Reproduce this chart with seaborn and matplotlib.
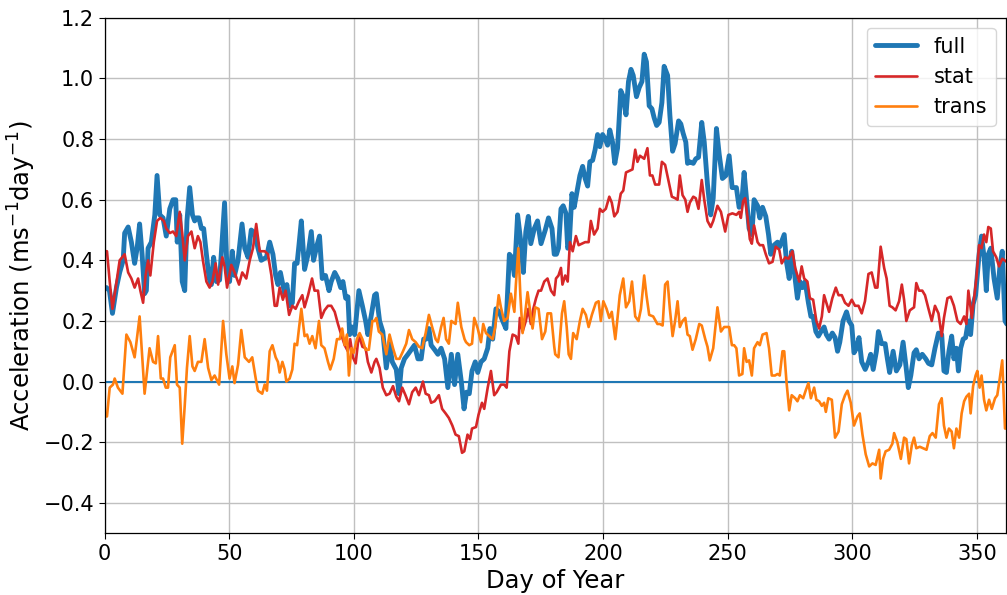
import matplotlib
matplotlib.use("Agg")
import matplotlib.pyplot as plt
import seaborn as sns

full_days = [0, 0.7, 1.9, 3.1, 4.7, 6.0, 7.4, 8.0, 9.4, 10.7, 12.0, 13.0, 14.0, 15.0, 16.0, 16.7, 17.4, 18.7, 20.1, 21.0,
             22.1, 23.4, 24.7, 26.1, 27.4, 28.5, 29.1, 30.1, 31.1, 32.1, 33.0, 34.1, 35.2, 36.1, 36.8, 37.8, 38.8, 39.7,
             40.8, 41.9, 42.8, 43.7, 44.8, 46.1, 48.1, 49.1, 50.1, 51.2, 52.1, 53.5, 55.1, 56.2, 57.5, 58.8, 60.2, 61.5,
             62.8, 64.9, 66.2, 67.5, 68.6, 69.5, 70.5, 72.2, 73.1, 74.2, 75.3, 76.2, 77.2, 77.95, 78.9, 80.2, 81.6, 82.9,
             83.8, 85.2, 86.2, 87.3, 88.6, 90.0, 90.9, 92.3, 93.6, 94.7, 95.6, 96.7, 97.6, 98.3, 99.3, 100.3, 101.2, 102.0,
             103.4, 104.7, 105.6, 107.0, 108.3, 109.0, 110.3, 111.6, 113.0, 114.3, 115.4, 117.0, 118.1, 119.0, 120.3,
             121.7, 123.0, 124.3, 125.7, 127.0, 128.0, 129.0, 130.1, 131.0, 132.4, 133.7, 135.0, 136.4, 137.7, 139.1,
             140.4, 141.7, 143.1, 144.2, 145.2, 146.3, 147.4, 148.7, 149.7, 151.0, 152.3, 153.7, 154.6, 155.7, 157.0,
             158.3, 159.7, 161.0, 162.4, 163.4, 164.4, 165.7, 167.0, 168.0, 169.0, 170.0, 171.0, 172.4, 173.7, 175.1,
             176.8, 178.1, 179.5, 180.4, 181.3, 182.1, 183.1, 184.0, 185.1, 185.8, 186.4, 187.5, 188.4, 189.4, 190.7,
             191.8, 192.8, 193.8, 194.7, 195.8, 196.8, 197.8, 198.7, 199.8, 200.9, 201.8, 202.7, 203.8, 204.7, 205.8,
             207.1, 208.1, 209.2, 210.2, 211.2, 212.1, 213.4, 214.5, 215.6, 216.5, 217.4, 218.5, 219.6, 220.5, 221.5,
             222.5, 223.6, 224.5, 225.9, 226.8, 227.9, 228.9, 230.3, 231.2, 232.1, 233.2, 233.9, 234.8, 236.2, 237.2,
             238.3, 239.6, 240.6, 241.9, 243.2, 244.2, 245.5, 246.6, 247.9, 249.3, 250.6, 251.8, 252.6, 253.5, 254.6,
             255.7, 256.6, 257.6, 258.6, 259.7, 260.6, 262.0, 262.9, 264.0, 265.3, 266.4, 267.3, 268.6, 270.0, 270.9,
             272.0, 272.7, 273.6, 274.7, 275.7, 276.7, 278.0, 279.0, 280.0, 281.1, 282.4, 283.4, 284.3, 285.4, 286.4,
             287.8, 288.7, 289.6, 290.7, 292.0, 293.1, 294.1, 295.0, 296.3, 297.7, 298.7, 299.8, 300.7, 301.7, 302.7,
             303.8, 305.2, 306.5, 307.4, 308.4, 309.7, 310.5, 311.8, 313.2, 314.1, 315.0, 316.4, 317.7, 319.1, 320.4,
             321.5, 322.5, 323.5, 324.8, 325.7, 326.8, 328.1, 329.5, 330.6, 331.9, 333.2, 334.6, 335.9, 336.8, 337.8,
             338.8, 339.9, 340.8, 341.8, 342.6, 343.5, 344.5, 345.5, 346.6, 347.5, 348.5, 349.5, 350.9, 351.9, 352.9,
             353.8, 354.6, 355.6, 356.9, 358.2, 359.2, 360.2, 361.3, 362.0]
full_vals = [0.31, 0.31, 0.30, 0.225, 0.31, 0.36, 0.40, 0.49, 0.51, 0.46, 0.39, 0.44, 0.52, 0.42, 0.29, 0.30, 0.44, 0.46, 0.55, 0.68,
             0.55, 0.54, 0.48, 0.57, 0.60, 0.60, 0.46, 0.55, 0.33, 0.30, 0.53, 0.64, 0.55, 0.53, 0.54, 0.54, 0.505, 0.505,
             0.42, 0.34, 0.32, 0.41, 0.33, 0.335, 0.59, 0.36, 0.33, 0.43, 0.35, 0.40, 0.52, 0.44, 0.41, 0.50, 0.49, 0.44,
             0.40, 0.41, 0.46, 0.42, 0.35, 0.32, 0.36, 0.29, 0.32, 0.25, 0.26, 0.39, 0.39, 0.45, 0.53, 0.37, 0.42, 0.495,
             0.40, 0.45, 0.48, 0.34, 0.35, 0.30, 0.33, 0.36, 0.34, 0.31, 0.33, 0.275, 0.28, 0.155, 0.18, 0.155, 0.23, 0.30,
             0.25, 0.20, 0.155, 0.22, 0.285, 0.29, 0.20, 0.165, 0.045, 0.125, 0.065, 0.04, -0.04, 0.045, 0.075,
             0.09, 0.105, 0.12, 0.075, 0.075, 0.14, 0.14, 0.175, 0.12, 0.105, 0.09, 0.11, 0.075, -0.02, 0.09,
             -0.01, 0.09, 0.0, -0.09, -0.035, -0.04, 0.035, 0.065, 0.03, 0.065, 0.075, 0.11, 0.175, 0.14, 0.24,
             0.23, 0.20, 0.175, 0.42, 0.41, 0.35, 0.55, 0.46, 0.36, 0.495, 0.545, 0.455, 0.505, 0.53, 0.455,
             0.50, 0.54, 0.505, 0.42, 0.42, 0.44, 0.57, 0.58, 0.555, 0.44, 0.45, 0.62, 0.575, 0.62, 0.68,
             0.71, 0.67, 0.645, 0.725, 0.73, 0.765, 0.815, 0.775, 0.815, 0.80, 0.78, 0.83, 0.79, 0.72, 0.77,
             0.96, 0.94, 0.88, 0.99, 1.03, 1.01, 0.94, 0.97, 0.99, 1.08, 1.055, 0.91, 0.90, 0.87, 0.845,
             0.855, 0.92, 1.04, 1.01, 0.88, 0.76, 0.785, 0.86, 0.85, 0.82, 0.79, 0.72, 0.725, 0.72, 0.735,
             0.74, 0.855, 0.79, 0.65, 0.55, 0.605, 0.835, 0.75, 0.67, 0.68, 0.745, 0.64, 0.64, 0.64, 0.575,
             0.595, 0.69, 0.60, 0.505, 0.485, 0.60, 0.58, 0.54, 0.575, 0.545, 0.485, 0.42, 0.45, 0.46, 0.445,
             0.47, 0.485, 0.395, 0.34, 0.43, 0.365, 0.275, 0.33, 0.31, 0.33, 0.26, 0.215, 0.215, 0.165, 0.15,
             0.17, 0.18, 0.155, 0.14, 0.16, 0.145, 0.10, 0.13, 0.20, 0.23, 0.20, 0.185, 0.095, 0.11, 0.145,
             0.065, 0.04, 0.065, 0.09, 0.04, 0.10, 0.165, 0.125, 0.125, 0.075, 0.03, 0.10, 0.035, 0.055, 0.13,
             0.055, -0.02, 0.02, 0.095, 0.105, 0.075, 0.09, 0.075, 0.06, 0.055, 0.11, 0.16, 0.155, 0.035, 0.03,
             0.10, 0.15, 0.075, 0.11, 0.035, 0.11, 0.14, 0.145, 0.20, 0.155, 0.255, 0.285, 0.42, 0.48, 0.41,
             0.30, 0.42, 0.44, 0.34, 0.275, 0.375, 0.43, 0.20, 0.19]

stat_days = [0, 0.9, 2.0, 3.1, 4.4, 6.0, 8.0, 9.4, 10.7, 12.0, 13.4, 14.3, 15.4, 16.4, 17.4, 18.3, 19.7, 21.0, 22.3, 23.7,
             24.7, 26.1, 27.4, 28.7, 30.1, 31.1, 32.1, 33.4, 34.8, 36.1, 37.4, 38.4, 39.4, 40.8, 42.1, 43.2, 44.5, 45.5,
             47.2, 48.1, 49.1, 50.8, 52.1, 53.9, 55.2, 56.8, 58.2, 59.5, 60.8, 62.2, 64.2, 65.5, 66.9, 68.2, 69.1, 70.2,
             71.5, 72.6, 74.0, 75.3, 76.6, 77.95, 79.3, 80.2, 81.6, 83.2, 84.2, 85.6, 86.9, 88.2, 89.6, 90.9, 92.3, 93.6,
             94.9, 96.3, 97.6, 98.5, 99.6, 100.7, 102.0, 103.4, 104.7, 105.6, 107.0, 108.3, 109.0, 110.3, 111.6, 113.0,
             114.3, 115.7, 117.0, 118.1, 119.4, 120.7, 122.1, 123.4, 124.8, 126.1, 127.7, 128.8, 130.1, 131.0, 132.4,
             134.1, 135.4, 136.8, 138.1, 139.5, 140.8, 142.1, 143.4, 144.3, 145.6, 146.6, 147.4, 149.0, 150.0, 151.4,
             152.3, 153.7, 155.0, 156.3, 157.3, 159.0, 160.3, 161.3, 162.4, 163.7, 165.0, 166.0, 166.6, 167.7, 169.0,
             170.0, 171.0, 172.0, 173.1, 174.1, 175.1, 176.4, 177.7, 179.1, 180.4, 181.1, 182.1, 183.1, 183.7, 184.8,
             185.8, 186.7, 187.8, 189.1, 190.2, 191.5, 192.8, 194.2, 195.1, 196.4, 197.8, 198.7, 199.8, 201.1, 202.5,
             203.5, 204.5, 205.8, 207.1, 208.1, 209.2, 210.5, 211.8, 212.9, 213.8, 214.8, 216.5, 217.8, 218.8, 219.8,
             220.9, 222.5, 223.6, 224.9, 226.3, 227.6, 228.9, 229.9, 230.8, 231.9, 233.0, 233.9, 234.8, 236.2, 237.2,
             238.3, 239.6, 240.6, 241.9, 243.2, 244.2, 245.9, 247.3, 249.0, 250.3, 251.9, 253.5, 254.6, 255.3, 256.2,
             257.0, 258.0, 258.9, 259.7, 260.6, 262.0, 262.9, 264.2, 265.3, 266.6, 268.0, 269.3, 270.7, 271.7, 273.1,
             274.4, 276.0, 277.1, 278.7, 279.7, 280.7, 282.0, 283.0, 284.3, 285.6, 286.7, 287.8, 288.7, 289.6, 290.7,
             292.0, 293.4, 294.5, 295.8, 297.1, 298.5, 299.8, 301.1, 302.5, 303.8, 305.1, 306.5, 307.8, 309.2, 310.1,
             311.4, 312.8, 313.8, 315.0, 316.1, 317.4, 318.8, 319.9, 320.8, 321.7, 323.1, 324.8, 325.7, 326.8, 328.1,
             329.2, 330.6, 331.9, 333.2, 334.6, 335.9, 336.8, 338.2, 339.5, 340.8, 342.2, 343.5, 344.9, 345.8, 346.6,
             348.0, 348.9, 349.8, 350.9, 351.9, 352.9, 353.8, 354.6, 355.6, 356.5, 357.8, 358.9, 360.2, 362.0]
stat_vals = [0.43, 0.43, 0.33, 0.24, 0.31, 0.40, 0.42, 0.36, 0.34, 0.31, 0.34, 0.30, 0.26, 0.35, 0.40, 0.35, 0.46, 0.53, 0.54, 0.53,
             0.505, 0.49, 0.495, 0.48, 0.56, 0.49, 0.40, 0.48, 0.495, 0.44, 0.48, 0.46, 0.40, 0.33, 0.31, 0.33, 0.39, 0.32,
             0.41, 0.38, 0.31, 0.385, 0.36, 0.32, 0.36, 0.34, 0.40, 0.44, 0.52, 0.43, 0.43, 0.42, 0.35, 0.25, 0.25, 0.31,
             0.27, 0.30, 0.22, 0.25, 0.24, 0.265, 0.285, 0.245, 0.285, 0.34, 0.30, 0.30, 0.21, 0.235, 0.25, 0.25, 0.23, 0.19,
             0.155, 0.12, 0.10, 0.14, 0.08, 0.06, 0.155, 0.115, 0.11, 0.065, 0.03, 0.065, 0.075, 0.045, -0.02, -0.045,
             -0.04, -0.015, -0.05, -0.065, -0.02, -0.045, -0.075, -0.035, -0.02, -0.045, 0.0, -0.04, -0.045, -0.07, -0.065,
             -0.045, -0.09, -0.105, -0.12, -0.145, -0.175, -0.18, -0.235, -0.23, -0.175, -0.19, -0.155, -0.15, -0.11, -0.07,
             -0.09, -0.02, 0.035, -0.045, -0.035, -0.01, -0.01, -0.02, 0.10, 0.155, 0.15, 0.125, 0.21, 0.165, 0.20,
             0.24, 0.19, 0.24, 0.275, 0.30, 0.30, 0.33, 0.34, 0.30, 0.285, 0.34, 0.35, 0.375, 0.32, 0.35,
             0.33, 0.46, 0.43, 0.48, 0.45, 0.455, 0.46, 0.46, 0.53, 0.485, 0.505, 0.57, 0.56, 0.57, 0.61,
             0.59, 0.545, 0.56, 0.62, 0.63, 0.69, 0.695, 0.70, 0.765, 0.725, 0.745, 0.735, 0.77, 0.68, 0.68,
             0.65, 0.65, 0.725, 0.715, 0.66, 0.61, 0.605, 0.60, 0.68, 0.615, 0.60, 0.56, 0.59, 0.61, 0.605,
             0.57, 0.665, 0.60, 0.53, 0.51, 0.53, 0.58, 0.56, 0.495, 0.55, 0.555, 0.55, 0.56, 0.54, 0.595,
             0.605, 0.54, 0.47, 0.455, 0.515, 0.46, 0.45, 0.45, 0.42, 0.39, 0.395, 0.445, 0.435, 0.39, 0.41,
             0.405, 0.43, 0.375, 0.33, 0.38, 0.34, 0.33, 0.275, 0.27, 0.20, 0.175, 0.215, 0.285, 0.26, 0.23,
             0.275, 0.31, 0.285, 0.285, 0.26, 0.25, 0.27, 0.25, 0.25, 0.225, 0.265, 0.355, 0.36, 0.31, 0.31,
             0.445, 0.375, 0.34, 0.25, 0.245, 0.235, 0.265, 0.32, 0.27, 0.20, 0.235, 0.245, 0.325, 0.30, 0.30,
             0.285, 0.24, 0.20, 0.25, 0.225, 0.15, 0.21, 0.275, 0.28, 0.25, 0.20, 0.19, 0.215, 0.19, 0.30,
             0.21, 0.275, 0.34, 0.45, 0.44, 0.485, 0.46, 0.51, 0.505, 0.43, 0.41, 0.38, 0.405, 0.395]

trans_days = [0, 0.9, 2.0, 3.3, 4.0, 5.3, 7.1, 8.7, 10.3, 12.0, 14.0, 16.0, 18.0, 19.4, 20.5, 21.4, 22.5, 23.4, 24.5, 25.4,
              26.3, 28.1, 29.0, 30.1, 31.1, 32.1, 33.0, 34.1, 35.2, 36.1, 37.4, 38.8, 40.1, 41.5, 42.8, 44.1, 45.9, 47.5,
              48.8, 50.1, 51.2, 52.1, 53.5, 54.8, 56.2, 57.9, 59.2, 60.6, 61.5, 63.2, 64.2, 65.1, 66.2, 67.3, 68.6, 69.5,
              70.2, 71.3, 72.2, 72.9, 74.2, 75.3, 76.2, 77.2, 77.95, 78.9, 80.2, 81.2, 82.2, 83.3, 84.6, 86.0, 86.9, 88.2,
              89.6, 90.5, 91.9, 93.2, 94.3, 95.3, 96.3, 97.2, 98.0, 99.0, 99.9, 101.2, 102.3, 103.4, 104.7, 106.0, 107.4,
              108.3, 109.0, 110.0, 111.4, 113.0, 114.3, 115.7, 117.0, 118.3, 119.7, 121.0, 122.1, 123.4, 124.8, 126.1,
              127.4, 128.8, 130.1, 131.4, 132.8, 133.7, 135.0, 136.0, 137.0, 138.1, 139.1, 140.8, 141.7, 143.1, 144.4,
              145.0, 146.3, 147.4, 148.3, 149.7, 151.0, 151.9, 153.0, 154.3, 155.7, 156.7, 158.1, 159.0, 160.3, 161.7,
              163.0, 164.4, 165.0, 166.0, 166.8, 167.7, 168.8, 169.7, 170.6, 171.7, 172.8, 174.1, 175.5, 176.8, 177.7,
              179.1, 180.4, 180.8, 182.1, 183.5, 184.4, 185.4, 186.2, 187.1, 188.0, 189.4, 190.7, 191.8, 193.1, 194.2,
              195.5, 197.1, 198.2, 199.1, 200.1, 201.4, 202.5, 203.5, 204.9, 205.8, 206.7, 208.1, 209.2, 210.5, 211.6,
              212.9, 214.2, 215.2, 216.5, 217.4, 218.5, 220.1, 221.8, 222.8, 223.9, 224.9, 225.9, 226.8, 227.9, 228.9,
              229.9, 230.8, 231.9, 233.0, 233.9, 234.8, 235.9, 237.2, 238.6, 239.6, 241.0, 241.9, 242.8, 244.2, 245.9,
              247.3, 248.6, 250.6, 251.7, 252.6, 253.5, 254.6, 255.9, 256.6, 257.6, 258.6, 259.7, 260.6, 262.0, 262.9,
              264.0, 265.6, 266.6, 267.7, 269.0, 270.0, 270.9, 272.0, 272.7, 273.6, 274.7, 275.7, 277.1, 278.0, 279.0,
              280.3, 281.3, 282.4, 283.4, 284.7, 285.6, 286.7, 287.8, 288.7, 289.4, 290.4, 291.8, 293.1, 294.5, 295.8,
              297.1, 298.1, 299.4, 300.7, 302.1, 303.0, 304.1, 305.4, 306.8, 308.1, 309.4, 310.8, 311.4, 312.4, 313.4,
              314.8, 316.1, 316.8, 318.1, 319.5, 320.8, 321.7, 322.8, 323.9, 324.8, 325.7, 327.1, 328.4, 329.8, 331.1,
              332.2, 333.5, 334.8, 335.9, 336.8, 337.8, 338.8, 339.9, 340.8, 341.8, 342.9, 343.9, 344.9, 345.8, 346.9,
              347.5, 348.5, 349.5, 350.2, 351.1, 351.9, 352.9, 353.8, 354.9, 356.0, 357.3, 358.2, 359.2, 360.2, 361.3, 362.0]
trans_vals = [-0.115, -0.115, -0.02, -0.01, 0.01, -0.02, -0.04, 0.155, 0.13, 0.08, 0.215, -0.04, 0.11, 0.065, 0.06, 0.15, 0.01, 0.01, -0.02, -0.02,
              0.08, 0.12, -0.01, -0.02, -0.205, -0.08, 0.045, 0.15, 0.05, 0.035, 0.065, 0.065, 0.14, 0.045, 0.005, 0.02, -0.01, 0.20,
              0.09, 0.01, 0.05, -0.005, 0.055, 0.17, 0.08, 0.065, 0.08, 0.01, -0.03, -0.04, -0.01, -0.03, 0.10, 0.12, 0.08, 0.065,
              0.03, 0.065, 0.04, 0.0, 0.01, 0.04, 0.125, 0.12, 0.175, 0.24, 0.15, 0.155, 0.125, 0.15, 0.11, 0.20, 0.12, 0.11,
              0.065, 0.04, 0.075, 0.14, 0.14, 0.175, 0.12, 0.155, 0.02, 0.11, 0.095, 0.14, 0.16, 0.14, 0.105, 0.105, 0.20,
              0.20, 0.21, 0.165, 0.155, 0.09, 0.155, 0.11, 0.075, 0.075, 0.10, 0.125, 0.17, 0.14, 0.13, 0.115,
              0.11, 0.16, 0.22, 0.18, 0.14, 0.13, 0.18, 0.21, 0.14, 0.125, 0.20, 0.19, 0.26, 0.18, 0.14,
              0.13, 0.12, 0.125, 0.21, 0.175, 0.13, 0.19, 0.16, 0.15, 0.14, 0.18, 0.285, 0.245, 0.20, 0.21,
              0.29, 0.23, 0.32, 0.44, 0.285, 0.16, 0.23, 0.295, 0.24, 0.175, 0.245, 0.24, 0.14, 0.165, 0.225,
              0.225, 0.115, 0.09, 0.08, 0.225, 0.265, 0.18, 0.09, 0.075, 0.16, 0.14, 0.20, 0.24, 0.22, 0.18,
              0.22, 0.26, 0.265, 0.20, 0.265, 0.24, 0.21, 0.23, 0.14, 0.21, 0.285, 0.34, 0.245, 0.265, 0.33,
              0.215, 0.20, 0.24, 0.35, 0.285, 0.22, 0.215, 0.19, 0.19, 0.185, 0.32, 0.33, 0.24, 0.15, 0.20,
              0.265, 0.18, 0.20, 0.21, 0.155, 0.15, 0.105, 0.14, 0.19, 0.185, 0.14, 0.115, 0.07, 0.11, 0.245,
              0.165, 0.18, 0.18, 0.12, 0.12, 0.11, 0.02, 0.025, 0.11, 0.065, 0.07, 0.02, 0.11, 0.13, 0.12,
              0.155, 0.16, 0.11, 0.02, 0.02, 0.025, 0.02, 0.10, 0.10, 0.0, -0.095, -0.045, -0.055, -0.065, -0.045,
              -0.055, -0.03, -0.005, -0.055, -0.02, -0.06, -0.065, -0.08, -0.07, -0.10, -0.055, -0.06, -0.185, -0.165, -0.075,
              -0.045, -0.03, -0.07, -0.145, -0.115, -0.105, -0.175, -0.24, -0.28, -0.27, -0.275, -0.225, -0.32, -0.255, -0.23,
              -0.225, -0.205, -0.17, -0.20, -0.255, -0.185, -0.19, -0.27, -0.21, -0.185, -0.22, -0.215, -0.22, -0.225, -0.18,
              -0.17, -0.185, -0.075, -0.055, -0.145, -0.185, -0.155, -0.165, -0.22, -0.155, -0.185, -0.105, -0.065, -0.05, -0.04,
              -0.105, -0.015, 0.02, 0.035, -0.02, 0.02, -0.06, -0.095, -0.06, -0.09, -0.055, -0.045, 0.01, 0.07, -0.155, -0.155]

x_ticks = [0, 50, 100, 150, 200, 250, 300, 350]
y_ticks = [-0.4, -0.2, 0.0, 0.2, 0.4, 0.6, 0.8, 1.0, 1.2]

sns.set_style("ticks")
plt.rcParams['font.family'] = ['DejaVu Sans']
plt.rcParams['text.color'] = 'black'
plt.rcParams['axes.labelcolor'] = 'black'
plt.rcParams['xtick.color'] = 'black'
plt.rcParams['ytick.color'] = 'black'

fig = plt.figure(figsize=(10.07, 5.95), dpi=100)
ax = fig.add_axes([0.104, 0.104, 0.895, 0.866])

sns.lineplot(x=full_days, y=full_vals, ax=ax, color='#1f77b4', linewidth=3.5, label='full', estimator=None, sort=False)
sns.lineplot(x=stat_days, y=stat_vals, ax=ax, color='#d62728', linewidth=1.9, label='stat', estimator=None, sort=False)
sns.lineplot(x=trans_days, y=trans_vals, ax=ax, color='#ff7f0e', linewidth=1.9, label='trans', estimator=None, sort=False)
ax.axhline(0, color='#1f77b4', linewidth=1.5, zorder=1)

ax.set_xlim(0, 361.7)
ax.set_ylim(-0.5, 1.2)
ax.set_xticks(x_ticks)
ax.set_yticks(y_ticks)
ax.grid(True, color='#c0c0c0', linewidth=1.0)
ax.tick_params(labelsize=15, direction='out', length=4, colors='black')
ax.set_xlabel('Day of Year', fontsize=17.5)
ax.set_ylabel('Acceleration (ms$^{-1}$day$^{-1}$)', fontsize=17.5)
for s in ax.spines.values():
    s.set_color('black')
    s.set_linewidth(0.9)
ax.legend(loc='upper right', fontsize=15, frameon=True, framealpha=0.8, edgecolor='#cccccc')

fig.savefig('out.png', dpi=100)
